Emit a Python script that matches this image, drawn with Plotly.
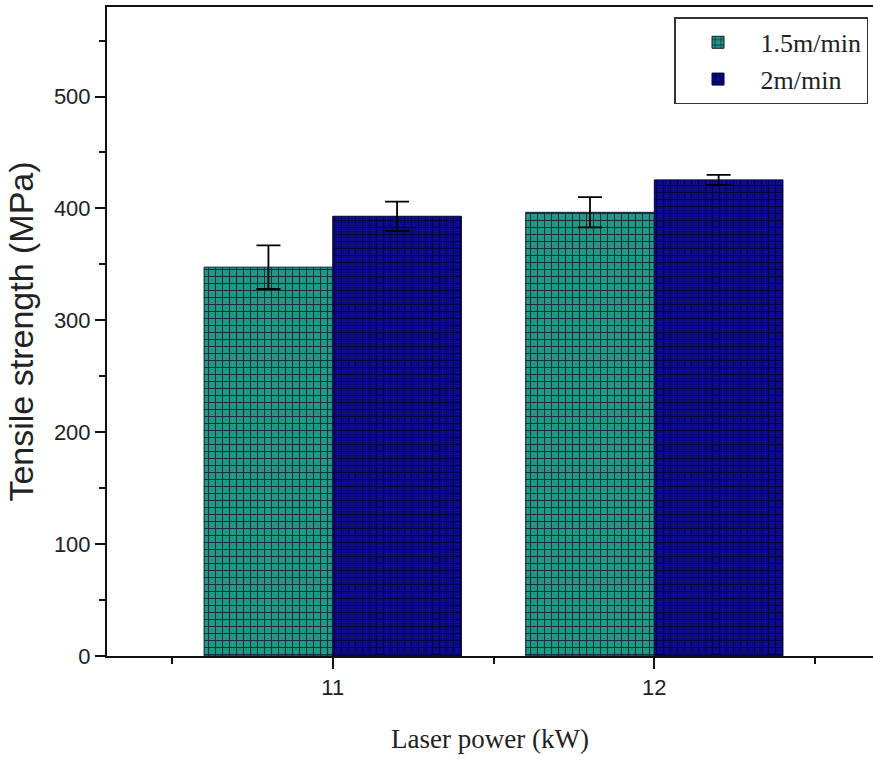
import plotly.graph_objects as go

laser_power = [11, 12]
series_names = ["1.5m/min", "2m/min"]
strength_15 = [347.5, 396.5]
err_15 = [19.5, 13.5]
strength_2 = [393.0, 425.5]
err_2 = [13.0, 4.5]

fig = go.Figure()
fig.add_trace(go.Bar(
    name=series_names[0], x=laser_power, y=strength_15,
    marker=dict(color="#1f9480", line=dict(color="#0a1a3a", width=1),
                pattern=dict(shape="+", fgcolor="#0f2f48", bgcolor="#22997f",
                             size=7, solidity=0.28, fillmode="replace")),
    error_y=dict(type="data", array=err_15, color="black", thickness=1.8, width=12),
))
fig.add_trace(go.Bar(
    name=series_names[1], x=laser_power, y=strength_2,
    marker=dict(color="#0a0a88", line=dict(color="#000040", width=1),
                pattern=dict(shape="+", fgcolor="#000042", bgcolor="#0b0b8c",
                             size=7, solidity=0.28, fillmode="replace")),
    error_y=dict(type="data", array=err_2, color="black", thickness=1.8, width=12),
))

fig.update_layout(
    width=873, height=760,
    margin=dict(l=107, r=0, t=7, b=104),
    paper_bgcolor="white", plot_bgcolor="white",
    barmode="group", bargap=0.2, bargroupgap=0,
    showlegend=True,
    legend=dict(x=0.9935, y=0.984, xanchor="right", yanchor="top",
                bgcolor="white", bordercolor="#333", borderwidth=1.5,
                font=dict(family="Liberation Serif", size=26, color="#222"),
                itemwidth=75, tracegroupgap=4),
    font=dict(family="Liberation Sans", color="#222"),
)
fig.update_xaxes(
    range=[10.298, 12.68], tickvals=laser_power, ticktext=[str(v) for v in laser_power],
    ticks="outside", ticklen=11, tickwidth=2, tickcolor="#111",
    minor=dict(dtick=0.5, tick0=10.5, ticks="outside", ticklen=6, tickwidth=2, tickcolor="#111"),
    showline=True, linecolor="#111", linewidth=2, mirror=True,
    showgrid=False, zeroline=False,
    tickfont=dict(family="Liberation Sans", size=22, color="#222"),
    title=dict(text="Laser power (kW)", font=dict(family="Liberation Serif", size=27, color="#222"),
               standoff=30),
)
fig.update_yaxes(
    range=[0, 580], tickvals=[0, 100, 200, 300, 400, 500],
    ticks="outside", ticklen=10, tickwidth=2, tickcolor="#111",
    minor=dict(dtick=50, tick0=0, ticks="outside", ticklen=6, tickwidth=2, tickcolor="#111"),
    showline=True, linecolor="#111", linewidth=2, mirror=False,
    showgrid=False, zeroline=False,
    tickfont=dict(family="Liberation Sans", size=22, color="#222"),
    title=dict(text="Tensile strength (MPa)", font=dict(family="Liberation Sans", size=34, color="#222"),
               standoff=10),
)

fig.write_html("out.html", config={"displayModeBar": False},
               post_script="document.body.style.margin='0';document.body.style.overflow='hidden';")
